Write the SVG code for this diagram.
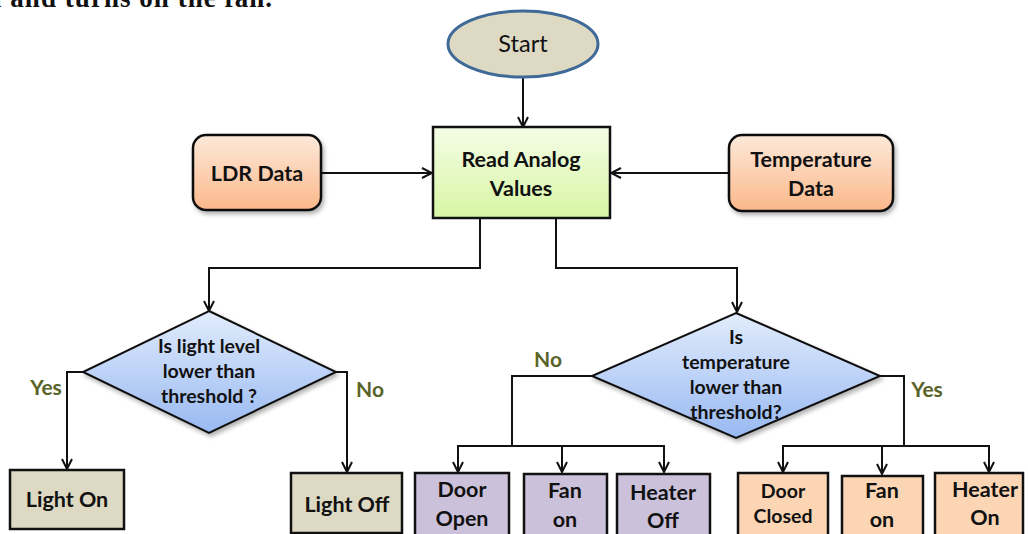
<svg xmlns="http://www.w3.org/2000/svg" width="1028" height="534" viewBox="0 0 1028 534">
  <defs>
    <style>
      .lbl { font-family: Lato, "Open Sans", "Liberation Sans", sans-serif; font-weight: 700; font-size: 21.5px; fill: #111; text-anchor: middle; }
      .dq { font-size: 19.5px; }
      .sm { font-size: 19.5px; }
      .yn { font-family: Lato, "Open Sans", "Liberation Sans", sans-serif; font-weight: 700; font-size: 21px; fill: #5a6428; text-anchor: middle; }
      .box { stroke: #111; stroke-width: 2.5; }
      .wire { fill: none; stroke: #111; stroke-width: 2; marker-end: url(#arr); }
      .plain { fill: none; stroke: #111; stroke-width: 2; }
    </style>
    <marker id="arr" viewBox="0 0 12 12" refX="11" refY="6" markerWidth="12" markerHeight="12" markerUnits="userSpaceOnUse" orient="auto">
      <path d="M1,1 L11,6 L1,11" fill="none" stroke="#111" stroke-width="2"/>
    </marker>
    <linearGradient id="gGreen" x1="0" y1="0" x2="0" y2="1">
      <stop offset="0" stop-color="#f4fde6"/>
      <stop offset="1" stop-color="#d7f6a4"/>
    </linearGradient>
    <linearGradient id="gPeach" x1="0" y1="0" x2="0" y2="1">
      <stop offset="0" stop-color="#fde9da"/>
      <stop offset="1" stop-color="#fbb88a"/>
    </linearGradient>
    <linearGradient id="gBlue" x1="0" y1="0" x2="0" y2="1">
      <stop offset="0" stop-color="#e2ecfc"/>
      <stop offset="1" stop-color="#98b9f2"/>
    </linearGradient>
    <filter id="shadow" x="-10%" y="-10%" width="125%" height="130%">
      <feDropShadow dx="2" dy="3" stdDeviation="2" flood-color="#000" flood-opacity="0.3"/>
    </filter>
  </defs>

  <rect width="1028" height="534" fill="#fff"/>

  <!-- tail of the preceding paragraph line, running off the top edge -->
  <text x="-6" y="7" textLength="278" lengthAdjust="spacing" font-family="Liberation Serif, serif" font-weight="700" font-size="27" fill="#111">l and turns on the fan.</text>

  <!-- connectors -->
  <g id="connectors">
    <path class="wire" d="M523,78 V127"/>
    <path class="wire" d="M321,173 H432"/>
    <path class="wire" d="M729,173 H611"/>
    <path class="wire" d="M480,218 V268 H209 V311"/>
    <path class="wire" d="M556,218 V268 H737 V312"/>
    <path class="wire" d="M83,372 H67 V469"/>
    <path class="wire" d="M336,372 H347 V472"/>
    <path class="plain" d="M592,376 H512 V446"/>
    <path class="wire" d="M512,446 H458 V472"/>
    <path class="wire" d="M458,446 H562 V472"/>
    <path class="wire" d="M562,446 H664 V472"/>
    <path class="plain" d="M880,376 H904 V446"/>
    <path class="wire" d="M904,446 H783 V472"/>
    <path class="wire" d="M783,446 H882 V474"/>
    <path class="wire" d="M882,446 H989 V472"/>
    <text class="yn" x="46" y="395">Yes</text>
    <text class="yn" x="370" y="397">No</text>
    <text class="yn" x="548" y="367">No</text>
    <text class="yn" x="927" y="397">Yes</text>
  </g>

  <g id="start">
    <ellipse cx="523" cy="44" rx="75" ry="33" fill="#ddd9c3" stroke="#3f6a98" stroke-width="3"/>
    <text x="523" y="52" font-family="Lato, 'Open Sans', sans-serif" font-size="23.5" fill="#111" text-anchor="middle">Start</text>
  </g>

  <g id="read-analog">
    <rect class="box" x="433" y="127" width="177" height="91" fill="url(#gGreen)"/>
    <text class="lbl" x="521" y="167">Read Analog</text>
    <text class="lbl" x="521" y="196">Values</text>
  </g>

  <g id="ldr-data">
    <rect class="box" x="193" y="135" width="128" height="75" rx="13" fill="url(#gPeach)" filter="url(#shadow)"/>
    <text class="lbl" x="257" y="181">LDR Data</text>
  </g>

  <g id="temperature-data">
    <rect class="box" x="729" y="135" width="164" height="76" rx="13" fill="url(#gPeach)" filter="url(#shadow)"/>
    <text class="lbl" x="811" y="167">Temperature</text>
    <text class="lbl" x="811" y="196">Data</text>
  </g>

  <g id="light-decision">
    <polygon points="209,311 336,372 209,433 83,372" fill="url(#gBlue)" stroke="#111" stroke-width="2" filter="url(#shadow)"/>
    <text class="lbl dq" x="209" y="353">Is light level</text>
    <text class="lbl dq" x="209" y="378">lower than</text>
    <text class="lbl dq" x="209" y="403">threshold ?</text>
  </g>

  <g id="temp-decision">
    <polygon points="736,313 880,376 736,438 592,376" fill="url(#gBlue)" stroke="#111" stroke-width="2" filter="url(#shadow)"/>
    <text class="lbl dq" x="736" y="344">Is</text>
    <text class="lbl dq" x="736" y="369">temperature</text>
    <text class="lbl dq" x="736" y="394">lower than</text>
    <text class="lbl dq" x="736" y="419">threshold?</text>
  </g>

  <g id="light-on">
    <rect class="box" x="10" y="470" width="114" height="59" fill="#ddd9c3"/>
    <text class="lbl" x="67" y="507">Light On</text>
  </g>

  <g id="light-off">
    <rect class="box" x="291" y="473" width="111" height="60" fill="#ddd9c3"/>
    <text class="lbl" x="347" y="512">Light Off</text>
  </g>

  <g id="door-open">
    <rect class="box" x="415" y="473" width="94" height="64" fill="#ccc1da"/>
    <text class="lbl" x="462" y="497">Door</text>
    <text class="lbl" x="462" y="526">Open</text>
  </g>

  <g id="fan-on-1">
    <rect class="box" x="524" y="474" width="83" height="63" fill="#ccc1da"/>
    <text class="lbl" x="565" y="498">Fan</text>
    <text class="lbl" x="565" y="527">on</text>
  </g>

  <g id="heater-off">
    <rect class="box" x="617" y="474" width="93" height="63" fill="#ccc1da"/>
    <text class="lbl" x="663" y="500">Heater</text>
    <text class="lbl" x="663" y="528">Off</text>
  </g>

  <g id="door-closed">
    <rect class="box" x="738" y="473" width="90" height="64" fill="#fcd5b4"/>
    <text class="lbl sm" x="783" y="498">Door</text>
    <text class="lbl sm" x="783" y="523">Closed</text>
  </g>

  <g id="fan-on-2">
    <rect class="box" x="842" y="476" width="81" height="61" fill="#fcd5b4"/>
    <text class="lbl" x="882" y="498">Fan</text>
    <text class="lbl" x="882" y="527">on</text>
  </g>

  <g id="heater-on">
    <rect class="box" x="935" y="473" width="88" height="64" fill="#fcd5b4"/>
    <text class="lbl" x="985" y="497">Heater</text>
    <text class="lbl" x="985" y="525">On</text>
  </g>
</svg>
